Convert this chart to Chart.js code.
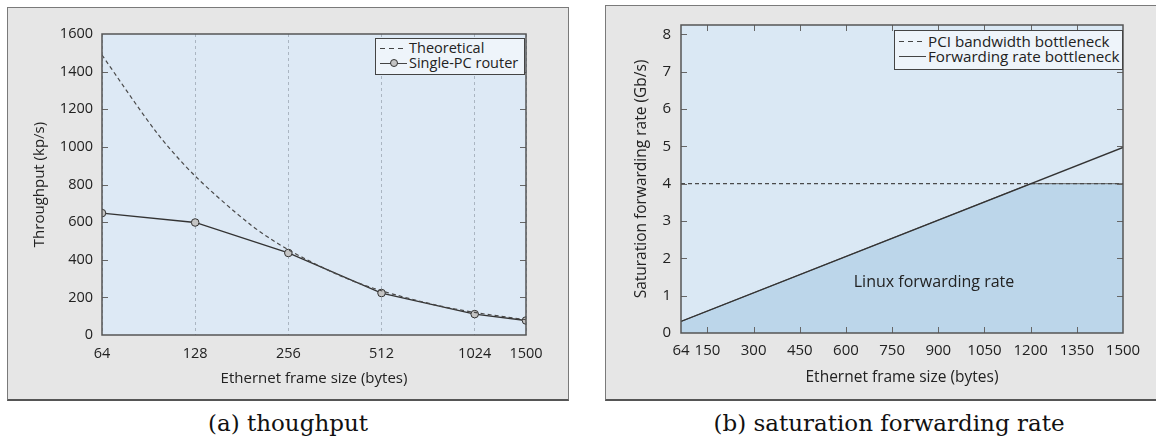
<!DOCTYPE html>
<html>
<head>
<meta charset="utf-8">
<script src="https://cdn.jsdelivr.net/npm/chart.js@4.4.0/dist/chart.umd.min.js"></script>
<style>
  body { margin: 0; width: 1156px; height: 446px; background: #fff; position: relative; overflow: hidden; font-family: "Open Sans", sans-serif; }
  .panel { position: absolute; background: #e6e6e6; border: 1px solid #7a7a7a; border-bottom: 2px solid #555; box-sizing: border-box; }
  #panelA { left: 7px; top: 7px; width: 562px; height: 394px; }
  #panelB { left: 605px; top: 5px; width: 570px; height: 396px; }
  canvas { position: absolute; }
  #chartA { left: 8px; top: 8px; }
  #chartB { left: 606px; top: 6px; }
  .legend { position: absolute; background: #eef4fa; border: 1px solid #444; box-sizing: border-box; color: #222; padding: 2px 0 0 4px; }
  .legend div { white-space: nowrap; }
  .sample { display: inline-block; position: relative; width: 27px; height: 14px; vertical-align: top; margin-right: 2px; }
  .sample .ln { position: absolute; left: 0; right: 0; top: 7px; height: 1px; background: #444; }
  .sample .ln.dash { background: repeating-linear-gradient(to right, #444 0 5px, transparent 5px 9px); }
  .sample .dot { position: absolute; left: 10px; top: 3px; width: 8px; height: 8px; border-radius: 50%; background: #c4c4c4; border: 1px solid #333; box-sizing: border-box; }
  .caption { position: absolute; top: 410px; font-family: "DejaVu Serif", serif; font-size: 23px; line-height: 26px; text-align: center; color: #111; }
</style>
</head>
<body>
<div class="panel" id="panelA"></div>
<div class="panel" id="panelB"></div>
<canvas id="chartA" width="559" height="391"></canvas>
<canvas id="chartB" width="550" height="393"></canvas>

<div class="legend" style="left:375px; top:38px; width:150px; height:37px; font-size:14.5px; line-height:14.5px;">
  <div><span class="sample"><span class="ln dash"></span></span>Theoretical</div>
  <div><span class="sample"><span class="ln"></span><span class="dot"></span></span>Single-PC router</div>
</div>
<div class="legend" style="left:894px; top:30px; width:229px; height:40px; font-size:15.2px; line-height:14.5px; padding-top:3px;">
  <div><span class="sample"><span class="ln dash"></span></span>PCI bandwidth bottleneck</div>
  <div><span class="sample"><span class="ln"></span></span>Forwarding rate bottleneck</div>
</div>

<div class="caption" style="left:7px; width:562px;">(a) thoughput</div>
<div class="caption" style="left:605px; width:568px;">(b) saturation forwarding rate</div>

<script>
// (a) throughput
const SIZE_TICKS = [64, 128, 256, 512, 1024, 1500];
const KPPS_TICKS = [0, 200, 400, 600, 800, 1000, 1200, 1400, 1600];
const THEORY_SIZES = [64, 96, 128, 192, 256, 384, 512, 768, 1024, 1500];
const THEORY_KPPS = [1488, 1077, 845, 590, 453, 309, 235, 159, 120, 81];
const ROUTER_SIZES = [64, 128, 256, 512, 1024, 1500];
const ROUTER_KPPS = [648, 598, 436, 223, 111, 77];

// (b) saturation forwarding rate
const RATE_X_TICKS = [64, 150, 300, 450, 600, 750, 900, 1050, 1200, 1350, 1500];
const RATE_Y_TICKS = [0, 1, 2, 3, 4, 5, 6, 7, 8];
const PCI_SIZES = [64, 1500];
const PCI_GBPS = [4, 4];
const FWD_SIZES = [64, 1500];
const FWD_GBPS = [0.31, 4.97];
const LINUX_SIZES = [64, 1200, 1500];
const LINUX_GBPS = [0.31, 4.0, 4.0];
const LINUX_LABEL_AT = [886, 1.36];

const FONT = 'Open Sans';
const pts = (xs, ys) => xs.map((x, i) => ({ x: x, y: ys[i] }));

// plot background, frame and inward tick marks
const framePlugin = {
  id: 'frame',
  beforeDraw(chart, args, opts) {
    const a = chart.chartArea, ctx = chart.ctx;
    ctx.save();
    ctx.fillStyle = opts.bg;
    ctx.fillRect(a.left, a.top, a.right - a.left, a.bottom - a.top);
    ctx.restore();
  },
  afterDraw(chart, args, opts) {
    const a = chart.chartArea, ctx = chart.ctx;
    ctx.save();
    ctx.strokeStyle = '#666';
    ctx.lineWidth = 1;
    const len = 6;
    const ys = chart.scales.y;
    ys.ticks.forEach(t => {
      const p = Math.round(ys.getPixelForValue(t.value)) + 0.5;
      if (p <= a.top + 1 || p >= a.bottom - 1) return;
      ctx.beginPath();
      ctx.moveTo(a.left, p); ctx.lineTo(a.left + len, p);
      ctx.moveTo(a.right, p); ctx.lineTo(a.right - len, p);
      ctx.stroke();
    });
    if (opts.xTicks) {
      const xs = chart.scales.x;
      xs.ticks.forEach(t => {
        const p = Math.round(xs.getPixelForValue(t.value)) + 0.5;
        if (p <= a.left + 1 || p >= a.right - 1) return;
        ctx.beginPath();
        ctx.moveTo(p, a.bottom); ctx.lineTo(p, a.bottom - len);
        ctx.moveTo(p, a.top); ctx.lineTo(p, a.top + len);
        ctx.stroke();
      });
    }
    ctx.strokeStyle = '#555';
    ctx.lineWidth = 1.5;
    ctx.strokeRect(a.left, a.top, a.right - a.left, a.bottom - a.top);
    if (opts.label) {
      ctx.fillStyle = '#222';
      ctx.font = '16px "' + FONT + '"';
      ctx.textAlign = 'center';
      ctx.textBaseline = 'middle';
      ctx.fillText(opts.label, chart.scales.x.getPixelForValue(LINUX_LABEL_AT[0]), ys.getPixelForValue(LINUX_LABEL_AT[1]));
    }
    ctx.restore();
  }
};

const fontA = { family: FONT, size: 14.5 };
const titleA = { family: FONT, size: 15 };
const fontB = { family: FONT, size: 15 };
const titleB = { family: FONT, size: 15.5 };

new Chart(document.getElementById('chartA'), {
  type: 'line',
  data: {
    datasets: [
      {
        label: 'Theoretical',
        data: pts(THEORY_SIZES, THEORY_KPPS),
        borderColor: '#4a4a4a',
        borderWidth: 1.2,
        borderDash: [4, 3],
        pointRadius: 0,
        tension: 0.3
      },
      {
        label: 'Single-PC router',
        data: pts(ROUTER_SIZES, ROUTER_KPPS),
        borderColor: '#333',
        borderWidth: 1.3,
        pointRadius: 3.8,
        pointBackgroundColor: '#c4c4c4',
        pointBorderColor: '#333',
        pointBorderWidth: 1
      }
    ]
  },
  options: {
    responsive: false,
    animation: false,
    layout: { padding: { left: 0, right: 41, top: 26, bottom: 0 } },
    plugins: {
      legend: { display: false },
      tooltip: { enabled: false },
      frame: { bg: '#dde9f5' }
    },
    scales: {
      x: {
        type: 'logarithmic',
        min: 64,
        max: 1500,
        afterBuildTicks: s => { s.ticks = SIZE_TICKS.map(v => ({ value: v })); },
        afterFit: s => { s.height = 64; },
        ticks: { callback: v => String(v), autoSkip: false, maxRotation: 0, padding: 10, color: '#222', font: fontA },
        grid: { drawTicks: false, color: '#aab5c1', lineWidth: 1 },
        border: { display: false, dash: [3, 3] },
        title: { display: true, text: 'Ethernet frame size (bytes)', color: '#222', font: titleA, padding: { top: 0, bottom: 11 } }
      },
      y: {
        min: 0,
        max: 1600,
        afterBuildTicks: s => { s.ticks = KPPS_TICKS.map(v => ({ value: v })); },
        afterFit: s => { s.width = 94; },
        ticks: { callback: v => String(v), padding: 9, color: '#222', font: fontA },
        grid: { display: false, drawTicks: false },
        border: { display: false },
        title: { display: true, text: 'Throughput (kp/s)', color: '#222', font: titleA, padding: { top: 23, bottom: 0 } }
      }
    }
  },
  plugins: [framePlugin]
});

new Chart(document.getElementById('chartB'), {
  type: 'line',
  data: {
    datasets: [
      {
        label: 'Linux forwarding rate',
        data: pts(LINUX_SIZES, LINUX_GBPS),
        borderColor: '#666',
        borderWidth: 1,
        backgroundColor: '#bcd6ea',
        fill: 'origin',
        pointRadius: 0,
        order: 3
      },
      {
        label: 'PCI bandwidth bottleneck',
        data: pts(PCI_SIZES, PCI_GBPS),
        borderColor: '#4a4a4a',
        borderWidth: 1.1,
        borderDash: [4, 3],
        pointRadius: 0,
        order: 2
      },
      {
        label: 'Forwarding rate bottleneck',
        data: pts(FWD_SIZES, FWD_GBPS),
        borderColor: '#333',
        borderWidth: 1.3,
        pointRadius: 0,
        order: 1
      }
    ]
  },
  options: {
    responsive: false,
    animation: false,
    layout: { padding: { left: 0, right: 33, top: 19, bottom: 0 } },
    plugins: {
      legend: { display: false },
      tooltip: { enabled: false },
      frame: { bg: '#dae8f4', xTicks: true, label: 'Linux forwarding rate' }
    },
    scales: {
      x: {
        type: 'linear',
        min: 64,
        max: 1500,
        afterBuildTicks: s => { s.ticks = RATE_X_TICKS.map(v => ({ value: v })); },
        afterFit: s => { s.height = 66; },
        ticks: { callback: v => String(v), autoSkip: false, maxRotation: 0, padding: 9, color: '#222', font: fontB },
        grid: { display: false, drawTicks: false },
        border: { display: false },
        title: { display: true, text: 'Ethernet frame size (bytes)', color: '#222', font: titleB, padding: { top: 0, bottom: 12 } }
      },
      y: {
        min: 0,
        max: 8.25,
        afterBuildTicks: s => { s.ticks = RATE_Y_TICKS.map(v => ({ value: v })); },
        afterFit: s => { s.width = 75; },
        ticks: { callback: v => String(v), padding: 10, color: '#222', font: fontB },
        grid: { display: false, drawTicks: false },
        border: { display: false },
        title: { display: true, text: 'Saturation forwarding rate (Gb/s)', color: '#222', font: titleB, padding: { top: 26, bottom: 0 } }
      }
    }
  },
  plugins: [framePlugin]
});
</script>
</body>
</html>
